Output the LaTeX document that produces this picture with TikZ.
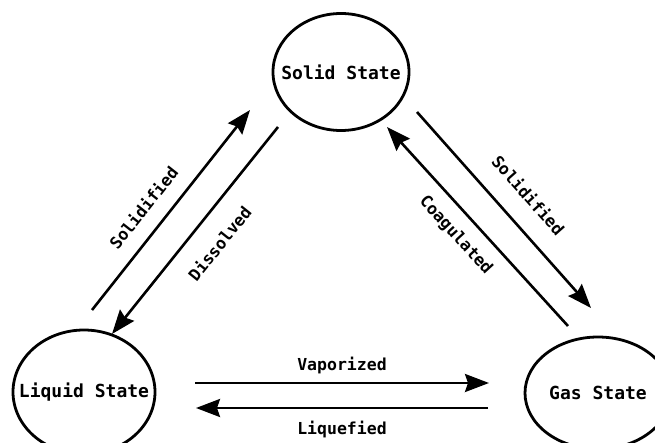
\documentclass[tikz,border=0pt]{standalone}
\usepackage{fontspec}
\setmonofont{DejaVu Sans Mono}
\usetikzlibrary{shapes.geometric,arrows.meta}
\begin{document}
\begin{tikzpicture}[x=1pt,y=-1pt,
  state/.style={draw,ellipse,line width=2.8pt,inner sep=0pt},
  txt/.style={font=\ttfamily\bfseries\fontsize{18}{20}\selectfont,inner sep=0pt},
  conn/.style={line width=2.6pt,-{Stealth[length=24pt,width=18pt,inset=3pt]}},
  lab/.style={font=\ttfamily\bfseries\fontsize{16.5}{18}\selectfont,sloped,inner sep=1pt}]
\useasboundingbox (0,0) rectangle (655,443);
\fill[white] (0,0) rectangle (655,443);
\node[state,minimum width=136pt,minimum height=117pt] (solid) at (341,72) {};
\node[txt] (solidt) at (solid.center) {Solid State};
\node[state,minimum width=142pt,minimum height=124pt] (liquid) at (84,392) {};
\node[txt] (liquidt) at (liquid.center) {Liquid State};
\node[state,minimum width=146pt,minimum height=112pt] (gas) at (598,393) {};
\node[txt] (gast) at (gas.center) {Gas State};
\coordinate (s1a) at (92,310);
\coordinate (s1b) at (250,110);
\coordinate (d1a) at (278,127);
\coordinate (d1b) at (112,334);
\coordinate (s2a) at (417,112);
\coordinate (s2b) at (591,308);
\coordinate (c2a) at (568,326);
\coordinate (c2b) at (387,127);
\coordinate (va) at (195,383);
\coordinate (vb) at (489,383);
\coordinate (la) at (488,408);
\coordinate (lb) at (196,408);
\draw[conn] (s1a) -- node[lab,above=14pt,pos=0.44] (lsol1) {Solidified} (s1b);
\draw[conn] (d1a) -- node[lab,below=18pt,pos=0.48] (ldis) {Dissolved} (d1b);
\draw[conn] (s2a) -- node[lab,above=19pt,pos=0.52] (lsol2) {Solidified} (s2b);
\draw[conn] (c2a) -- node[lab,below=12pt,pos=0.53] (lcoa) {Coagulated} (c2b);
\draw[conn] (va) -- node[lab,above=7pt] (lvap) {Vaporized} (vb);
\draw[conn] (la) -- node[lab,below=11pt] (lliq) {Liquefied} (lb);
\end{tikzpicture}
\end{document}
